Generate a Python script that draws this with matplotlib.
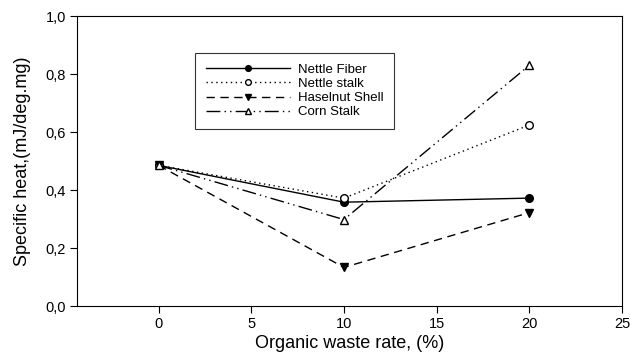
import matplotlib
matplotlib.use("Agg")
from matplotlib import pyplot as plt

rate = [0, 10, 20]
nettle_fiber = [0.485, 0.358, 0.372]
nettle_stalk = [0.485, 0.372, 0.624]
haselnut_shell = [0.485, 0.133, 0.322]
corn_stalk = [0.485, 0.298, 0.830]

plt.rcParams['font.family'] = ['Liberation Sans', 'DejaVu Sans']

fig = plt.figure(figsize=(6.3, 3.56), dpi=100)
ax = fig.add_axes([77/630, 1 - 306/356, (622 - 77)/630, (306 - 16)/356])

ms = 5.5
ax.plot(rate, nettle_fiber, color='black', lw=1.0, marker='o', ms=ms,
        mfc='black', label='Nettle Fiber')
ax.plot(rate, nettle_stalk, color='black', lw=1.0, ls=(0, (1, 2.5)), marker='o', ms=ms,
        mfc='white', label='Nettle stalk')
ax.plot(rate, haselnut_shell, color='black', lw=1.0, ls=(0, (6, 4)), marker='v', ms=ms,
        mfc='black', label='Haselnut Shell')
ax.plot(rate, corn_stalk, color='black', lw=1.0, ls=(0, (10, 3, 1, 3, 1, 3)), marker='^', ms=ms,
        mfc='white', label='Corn Stalk')

ax.set_xlim(-4.4, 25)
ax.set_ylim(0, 1.0)
ax.set_xticks([0, 5, 10, 15, 20, 25])
ax.set_yticks([0, 0.2, 0.4, 0.6, 0.8, 1.0])
ax.set_yticklabels(['0,0', '0,2', '0,4', '0,6', '0,8', '1,0'])
ax.tick_params(direction='out', length=5, pad=3, labelsize=10.5, top=False, right=False)
ax.set_xlabel('Organic waste rate, (%)', fontsize=13, labelpad=3)
ax.set_ylabel('Specific heat,(mJ/deg.mg)', fontsize=13, labelpad=10)

leg = ax.legend(loc='upper left', bbox_to_anchor=((195 - 77)/545, 1 - (53 - 16)/290),
                fontsize=9.5, frameon=True, fancybox=False, edgecolor='black',
                handlelength=6.4, handletextpad=0.6, borderpad=0.8, markerscale=0.75,
                borderaxespad=0, labelspacing=0.15)
leg.get_frame().set_linewidth(0.8)

fig.savefig('out.png', dpi=100)
